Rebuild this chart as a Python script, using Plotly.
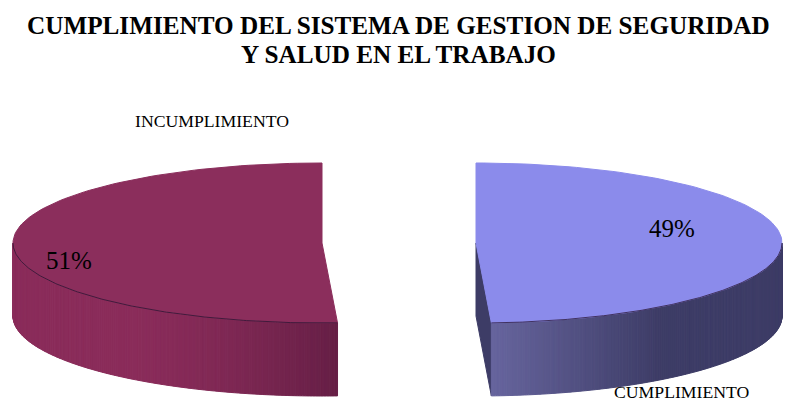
import numpy as np
import plotly.graph_objects as go

# --- data ---
categories = ["CUMPLIMIENTO", "INCUMPLIMIENTO"]
values = [49.2, 50.8]
percent_labels = ["49%", "51%"]
title_lines = ["CUMPLIMIENTO DEL SISTEMA DE GESTION DE SEGURIDAD", "Y SALUD EN EL TRABAJO"]

# --- styling / geometry of the exploded tilted pie (page pixels) ---
W, H = 785, 403
CY, RY, DEPTH = 243, 80, 73
CX = [476, 322]
RX = [306, 309]
TOP = ["#8b8beb", "#8b2e5c"]
SIDE_DARK = "#3d3c66"
FONT = "Liberation Serif"


def lerp(c1, c2, t):
    a = [int(c1[i:i + 2], 16) for i in (1, 3, 5)]
    b = [int(c2[i:i + 2], 16) for i in (1, 3, 5)]
    return "rgb(%d,%d,%d)" % tuple(round(p + (q - p) * t) for p, q in zip(a, b))


def wall_color(idx, x):
    if idx == 0:
        return lerp("#67659e", SIDE_DARK, min(1, max(0, (x - 490) / 170)))
    return lerp("#8a2c5a", "#661f46", min(1, max(0, (x - 130) / 206)) ** 1.5)


fig = go.Figure()
total = sum(values)
start = 0.0
angles = []
for v in values:
    end = start + v / total * 2 * np.pi
    angles.append((start, end))
    start = end


def add_poly(xs, ys, color, line=None):
    fig.add_trace(go.Scatter(
        x=xs, y=ys, mode="lines", fill="toself", fillcolor=color,
        line=dict(color=line or color, width=1), hoverinfo="skip", showlegend=False))


for i, (a0, a1) in enumerate(angles):
    cx, rx = CX[i], RX[i]
    th = np.linspace(a0, a1, 121)
    ex = cx + rx * np.sin(th)
    ey = CY - RY * np.cos(th)

    # inner cut face of the right slice
    if i == 0:
        add_poly([cx, ex[-1], ex[-1], cx, cx],
                 [CY, ey[-1], ey[-1] + DEPTH, CY + DEPTH, CY], SIDE_DARK)

    # outer wall: thin gradient strips on the front half
    wall = np.linspace(np.pi / 2 if i == 0 else a0, a1 if i == 0 else 3 * np.pi / 2, 181)
    wx = cx + rx * np.sin(wall)
    wy = CY - RY * np.cos(wall)
    for j in range(len(wall) - 1):
        xs = [wx[j], wx[j + 1], wx[j + 1], wx[j], wx[j]]
        ys = [wy[j], wy[j + 1], wy[j + 1] + DEPTH, wy[j] + DEPTH, wy[j]]
        add_poly(xs, ys, wall_color(i, (wx[j] + wx[j + 1]) / 2))

    # top face
    xs = np.concatenate(([cx], ex, [cx]))
    ys = np.concatenate(([CY], ey, [CY]))
    add_poly(xs, ys, TOP[i], line=TOP[i])
    # thin dark rim along the front edge
    fig.add_trace(go.Scatter(x=wx, y=wy, mode="lines",
                             line=dict(color="rgba(40,20,50,0.75)", width=1),
                             hoverinfo="skip", showlegend=False))

annotations = []
for text, x, y, size, bold in [
    (title_lines[0], 398.5, 25, 25.2, True),
    (title_lines[1], 398.5, 54, 25.2, True),
    (categories[1], 212, 121, 17.7, False),
    (categories[0], 682, 392, 17.7, False),
    (percent_labels[0], 672, 228, 25, False),
    (percent_labels[1], 69, 260, 25, False),
]:
    annotations.append(dict(
        x=x, y=y, xref="x", yref="y", showarrow=False, xanchor="center", yanchor="middle",
        text=f"<b>{text}</b>" if bold else text,
        font=dict(family=FONT, size=size, color="#000000")))

fig.update_layout(
    width=W, height=H, margin=dict(l=0, r=0, t=0, b=0),
    paper_bgcolor="white", plot_bgcolor="white", showlegend=False,
    xaxis=dict(range=[0, W], visible=False, fixedrange=True),
    yaxis=dict(range=[H, 0], visible=False, fixedrange=True),
    annotations=annotations,
)
fig.write_html("out.html", config=dict(displayModeBar=False),
               post_script="document.body.style.margin='0';document.body.style.overflow='hidden';")
